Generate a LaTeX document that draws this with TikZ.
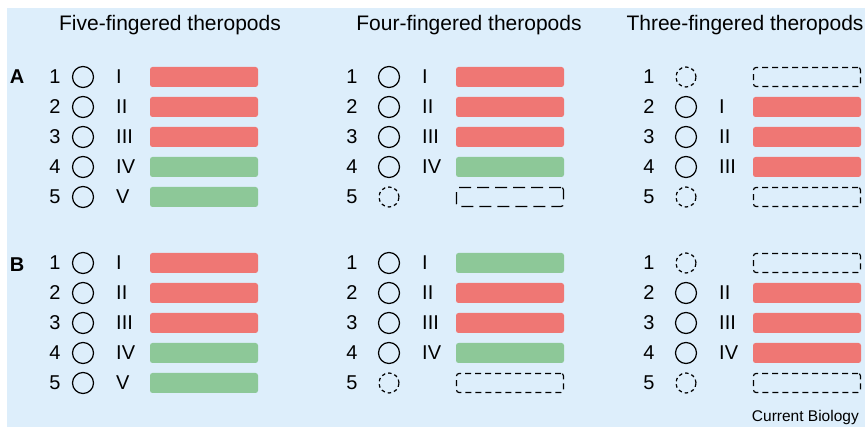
\documentclass[tikz,border=0pt]{standalone}
\usepackage{fontspec}
\setmainfont{Liberation Sans}
\setsansfont{Liberation Sans}

\definecolor{panelBlue}{RGB}{221,238,251}
\definecolor{boneRed}{RGB}{239,119,116}
\definecolor{boneGreen}{RGB}{141,200,152}

\tikzset{
	num/.style={inner sep=0pt,font=\fontsize{20}{24}\selectfont},
	roman/.style={anchor=west,inner sep=0pt,font=\fontsize{20}{24}\selectfont},
	joint/.style={circle,draw,line width=1.2pt,minimum size=21pt,inner sep=0pt},
	lostjoint/.style={joint,minimum size=20pt,dash pattern=on 3.5pt off 3pt},
	bone/.style={rounded corners=2.5pt,minimum width=108pt,minimum height=20pt,inner sep=0pt},
	redbone/.style={bone,fill=boneRed},
	greenbone/.style={bone,fill=boneGreen},
	lostbone/.style={bone,draw,line width=1.2pt,minimum width=107pt,minimum height=19pt,dash pattern=on 6pt off 4pt},
	longlost/.style={lostbone,dash pattern=on 12pt off 6pt},
	title/.style={anchor=base,inner sep=0pt,font=\fontsize{21}{25}\selectfont}
}

% #1 name, #2 number x, #3 circle x, #4 y, #5 number, #6 numeral, #7 bar style
\newcommand{\finger}[7]{%
	\node[num] (#1n) at (#2,#4) {#5};
	\node[joint] (#1c) at (#3,#4) {};
	\node[roman] (#1r) at (#3+33,#4) {#6};
	\node[#7] (#1b) at (#3+121,#4) {};
}
% #1 name, #2 number x, #3 circle x, #4 y, #5 number, #6 bar style
\newcommand{\lostfinger}[6]{%
	\node[num] (#1n) at (#2,#4) {#5};
	\node[lostjoint] (#1c) at (#3,#4) {};
	\node[#6] (#1b) at (#3+121,#4) {};
}

\begin{document}
\begin{tikzpicture}[x=1pt,y=-1pt]
	\useasboundingbox (0,0) rectangle (865,427);
	\fill[panelBlue] (7,8) rectangle (865,427); %background

	%titles
	\node[title] (fivetitle) at (170,31) {Five-fingered theropods};
	\node[title] (fourtitle) at (469,31) {Four-fingered theropods};
	\node[title] (threetitle) at (745,31) {Three-fingered theropods};

	%panel letters
	\node[num,font=\fontsize{20}{24}\selectfont\bfseries] (rowA) at (17,77) {A};
	\node[num,font=\fontsize{20}{24}\selectfont\bfseries] (rowB) at (17,265) {B};

	%five fingers, A
	\finger{fiveA1}{55}{83}{77}{1}{I}{redbone}
	\finger{fiveA2}{55}{83}{107}{2}{II}{redbone}
	\finger{fiveA3}{55}{83}{137}{3}{III}{redbone}
	\finger{fiveA4}{55}{83}{167}{4}{IV}{greenbone}
	\finger{fiveA5}{55}{83}{197}{5}{V}{greenbone}
	%five fingers, B
	\finger{fiveB1}{55}{83}{263}{1}{I}{redbone}
	\finger{fiveB2}{55}{83}{293}{2}{II}{redbone}
	\finger{fiveB3}{55}{83}{323}{3}{III}{redbone}
	\finger{fiveB4}{55}{83}{353}{4}{IV}{greenbone}
	\finger{fiveB5}{55}{83}{383}{5}{V}{greenbone}

	%four fingers, A
	\finger{fourA1}{352}{389}{77}{1}{I}{redbone}
	\finger{fourA2}{352}{389}{107}{2}{II}{redbone}
	\finger{fourA3}{352}{389}{137}{3}{III}{redbone}
	\finger{fourA4}{352}{389}{167}{4}{IV}{greenbone}
	\lostfinger{fourA5}{352}{389}{197}{5}{longlost}
	%four fingers, B
	\finger{fourB1}{352}{389}{263}{1}{I}{greenbone}
	\finger{fourB2}{352}{389}{293}{2}{II}{redbone}
	\finger{fourB3}{352}{389}{323}{3}{III}{redbone}
	\finger{fourB4}{352}{389}{353}{4}{IV}{greenbone}
	\lostfinger{fourB5}{352}{389}{383}{5}{lostbone}

	%three fingers, A
	\lostfinger{threeA1}{649}{686}{77}{1}{lostbone}
	\finger{threeA2}{649}{686}{107}{2}{I}{redbone}
	\finger{threeA3}{649}{686}{137}{3}{II}{redbone}
	\finger{threeA4}{649}{686}{167}{4}{III}{redbone}
	\lostfinger{threeA5}{649}{686}{197}{5}{lostbone}
	%three fingers, B
	\lostfinger{threeB1}{649}{686}{263}{1}{lostbone}
	\finger{threeB2}{649}{686}{293}{2}{II}{redbone}
	\finger{threeB3}{649}{686}{323}{3}{III}{redbone}
	\finger{threeB4}{649}{686}{353}{4}{IV}{redbone}
	\lostfinger{threeB5}{649}{686}{383}{5}{lostbone}

	%journal
	\node[anchor=east,inner sep=0pt,font=\fontsize{15.5}{18}\selectfont] (journal) at (859,417) {Current Biology};
\end{tikzpicture}
\end{document}
